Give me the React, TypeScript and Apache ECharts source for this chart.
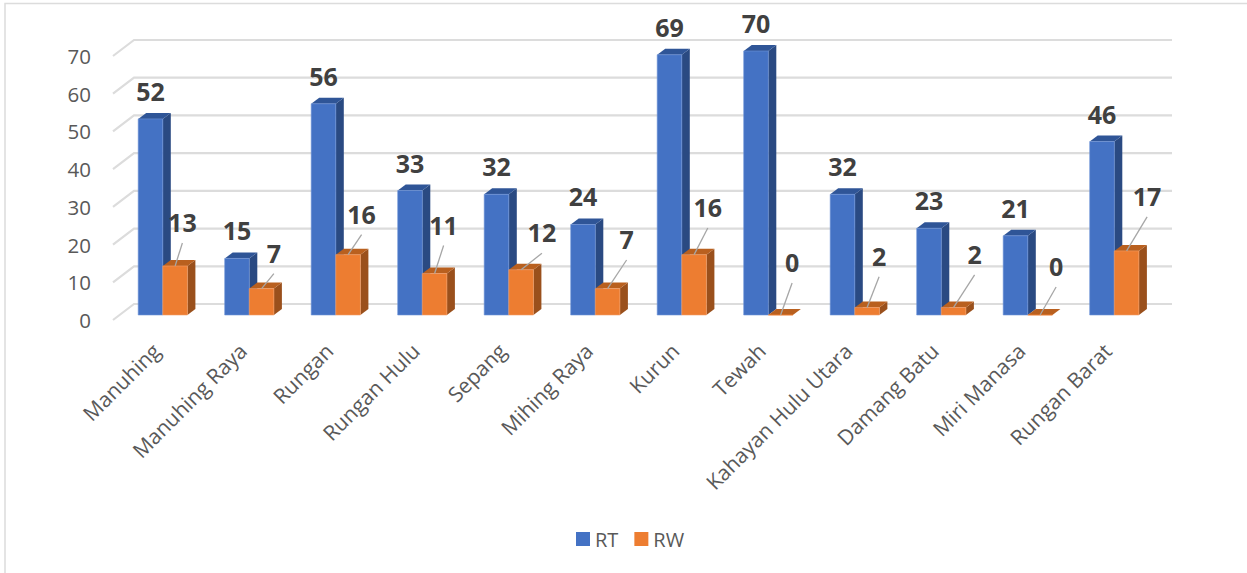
import React, { useEffect, useRef } from "react";
import * as echarts from "echarts";

const categories = [
  "Manuhing", "Manuhing Raya", "Rungan", "Rungan Hulu", "Sepang", "Mihing Raya",
  "Kurun", "Tewah", "Kahayan Hulu Utara", "Damang Batu", "Miri Manasa", "Rungan Barat",
];
const rtValues = [52, 15, 56, 33, 32, 24, 69, 70, 32, 23, 21, 46];
const rwValues = [13, 7, 16, 11, 12, 7, 16, 0, 2, 2, 0, 17];
const yTicks = [0, 10, 20, 30, 40, 50, 60, 70];

// Where each RW label sits relative to the top of its bar (dragged labels with leader lines)
const rwLabelDx = [7.3, 12.3, 13.5, 9, 20.8, 19, 13.7, 11.5, 12, 21, 16, 20.5];
const rwLabelDy = [43, 35, 40, 48, 36.5, 48.6, 46.7, 52, 50.7, 52.5, 48, 54];

const FONT = "'Open Sans', Lato, sans-serif";
const TEXT_GREY = "#595959";
const LABEL_DARK = "#404040";
const GRID_GREY = "#dcdcdc";

const WALL_DX = 21;
const WALL_DY = 16;
const FLOOR_DX = 6.5;
const FLOOR_DY = 5;
const BAR_W = 24.6;
const BAR_DX = 8;
const BAR_DY = 6;
const BAND_GAP = 18.7;

type Palette = { front: string; side: string; top: string; edge: string };
const BLUE: Palette = { front: "#4472c4", side: "#2a4a82", top: "#2f5597", edge: "#6f93d6" };
const ORANGE: Palette = { front: "#ed7d31", side: "#9a501c", top: "#b9601f", edge: "#f4a06a" };

function barRenderer(pal: Palette, slot: number, leader: boolean) {
  return (params: any, api: any) => {
    const i = api.value(0);
    const v = api.value(1);
    const band = api.size([1, 0])[0];
    const base = api.coord([i, 0]);
    const top = api.coord([i, v]);
    const x0 = base[0] - band / 2 + FLOOR_DX + BAND_GAP + slot * BAR_W;
    const x1 = x0 + BAR_W;
    const yb = base[1] - FLOOR_DY;
    const yt = top[1] - FLOOR_DY;
    const cx = (x0 + x1) / 2;
    const children: any[] = [
      {
        type: "polygon",
        shape: { points: [[x1, yb], [x1 + BAR_DX, yb - BAR_DY], [x1 + BAR_DX, yt - BAR_DY], [x1, yt]] },
        style: { fill: pal.side },
      },
      {
        type: "polygon",
        shape: { points: [[x0, yt], [x0 + BAR_DX, yt - BAR_DY], [x1 + BAR_DX, yt - BAR_DY], [x1, yt]] },
        style: { fill: pal.top },
      },
      {
        type: "rect",
        shape: { x: x0, y: yt, width: BAR_W, height: yb - yt },
        style: { fill: pal.front, stroke: v > 0 ? pal.edge : pal.front, lineWidth: 0.6 },
      },
    ];
    let lx = cx;
    let ly = yt - 27;
    if (leader) {
      lx = cx + api.value(2);
      ly = yt - api.value(3);
      children.push({
        type: "line",
        shape: { x1: cx, y1: yt, x2: lx, y2: ly + 20 },
        style: { stroke: "#a6a6a6", lineWidth: 1.3 },
      });
    }
    children.push({
      type: "text",
      style: {
        text: String(v),
        x: lx,
        y: ly - 1,
        align: "center",
        verticalAlign: "middle",
        font: `bold 25px ${FONT}`,
        fill: LABEL_DARK,
      },
    });
    return { type: "group", children };
  };
}

function gridRenderer(params: any, api: any) {
  const p = api.coord([0, api.value(0)]);
  const left = params.coordSys.x;
  const right = params.coordSys.x + params.coordSys.width;
  return {
    type: "polyline",
    shape: {
      points: [
        [left, p[1]],
        [left + WALL_DX, p[1] - WALL_DY],
        [right + WALL_DX, p[1] - WALL_DY],
      ],
    },
    style: { fill: "none", stroke: GRID_GREY, lineWidth: 2.2 },
  };
}

export default function App() {
  const ref = useRef<HTMLDivElement>(null);
  useEffect(() => {
    if (!ref.current) return;
    const chart = echarts.init(ref.current, undefined, { renderer: "svg" });
    chart.setOption({
      animation: false,
      backgroundColor: "#ffffff",
      textStyle: { fontFamily: FONT },
      grid: { left: 113, top: 56, width: 1038, height: 264 },
      xAxis: {
        type: "category",
        data: categories,
        axisLine: { show: false },
        axisTick: { show: false },
        axisLabel: { interval: 0, rotate: 45, margin: 27, fontSize: 21, color: TEXT_GREY, fontFamily: FONT },
      },
      yAxis: {
        type: "value",
        min: 0,
        max: 70,
        interval: 10,
        axisLine: { show: false },
        axisTick: { show: false },
        splitLine: { show: false },
        axisLabel: { margin: 22, fontSize: 20.5, padding: [2, 0, 0, 0], color: TEXT_GREY, fontFamily: FONT },
      },
      legend: {
        data: ["RT", "RW"],
        left: 571,
        top: 524,
        icon: "rect",
        itemWidth: 14,
        itemHeight: 14,
        itemGap: 16,
        textStyle: { fontSize: 20, color: TEXT_GREY, fontFamily: FONT },
      },
      graphic: [
        {
          type: "polyline",
          shape: { points: [[5, 573], [5, 3.5], [1247, 3.5]] },
          style: { fill: "none", stroke: GRID_GREY, lineWidth: 1.5 },
          silent: true,
        },
      ],
      series: [
        {
          type: "custom",
          name: "grid",
          data: yTicks.map((t) => [t]),
          encode: { y: 0 },
          renderItem: gridRenderer,
          silent: true,
        },
        {
          type: "custom",
          name: "RT",
          itemStyle: { color: BLUE.front },
          data: rtValues.map((v, i) => [i, v]),
          encode: { x: 0, y: 1 },
          renderItem: barRenderer(BLUE, 0, false),
          silent: true,
        },
        {
          type: "custom",
          name: "RW",
          itemStyle: { color: ORANGE.front },
          data: rwValues.map((v, i) => [i, v, rwLabelDx[i], rwLabelDy[i]]),
          encode: { x: 0, y: 1 },
          renderItem: barRenderer(ORANGE, 1, true),
          silent: true,
        },
      ],
    });
    return () => chart.dispose();
  }, []);
  return (
    <div
      ref={ref}
      style={{ position: "absolute", left: 0, top: 0, width: 1247, height: 573 }}
    />
  );
}
